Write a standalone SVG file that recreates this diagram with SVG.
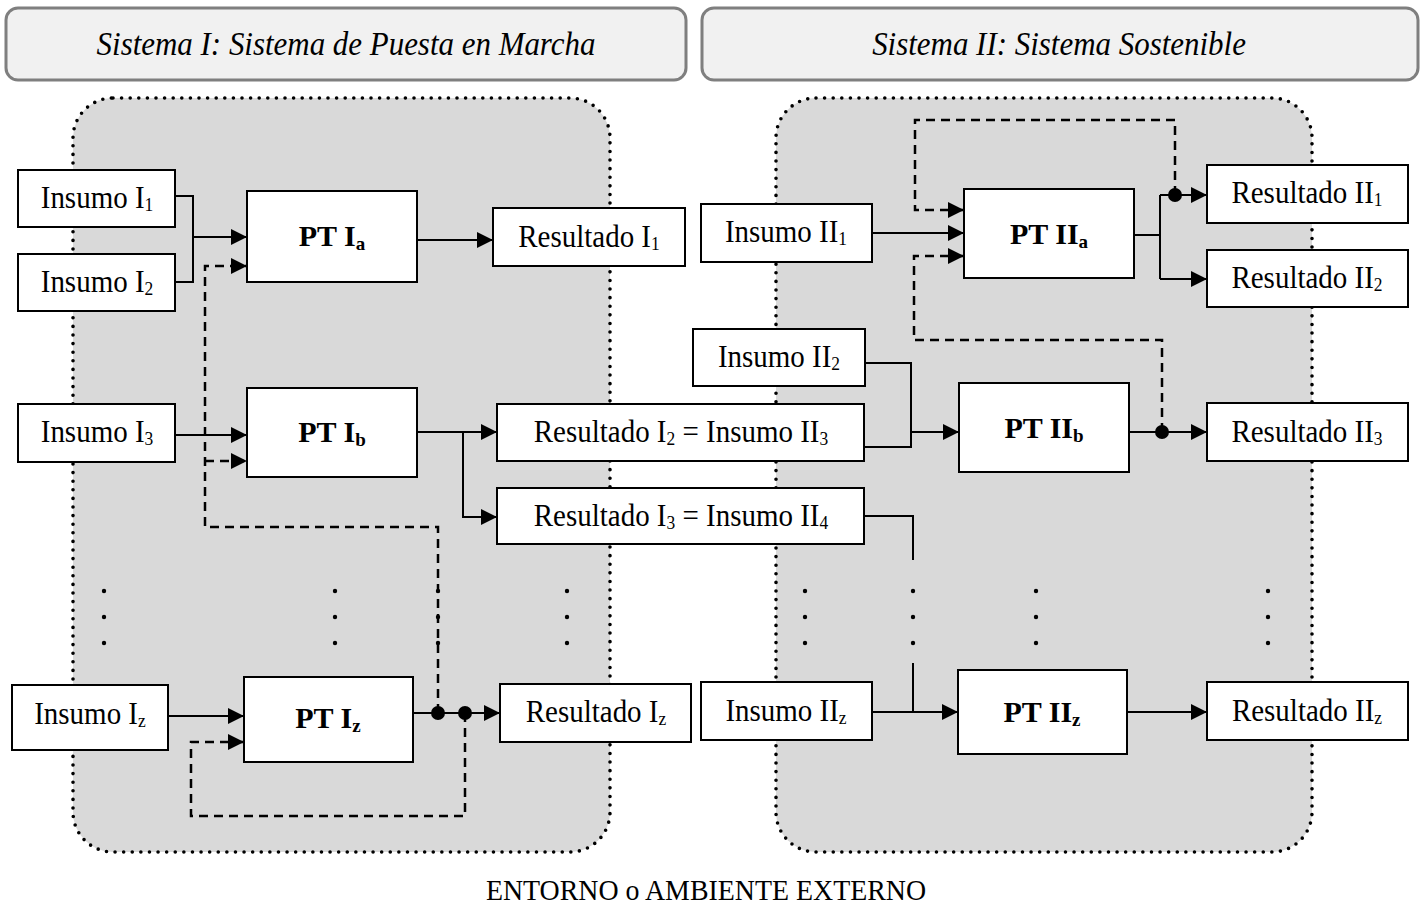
<svg xmlns="http://www.w3.org/2000/svg" width="1424" height="908" viewBox="0 0 1424 908">
  <style>
    .hdr { fill: #f1f1f1; stroke: #7f7f7f; stroke-width: 3; }
    .hdr-t { font-family: "Liberation Serif", "Times New Roman", serif; font-style: italic; font-size: 34px; fill: #000; text-anchor: middle; }
    .zone { fill: #d9d9d9; stroke: #000; stroke-width: 3.6; stroke-dasharray: 0 8.6; stroke-linecap: round; }
    .box { fill: #fff; stroke: #000; stroke-width: 2; }
    .lbl { font-family: "Liberation Serif", "Times New Roman", serif; font-size: 31.5px; fill: #000; text-anchor: middle; }
    .pt { font-family: "Liberation Serif", "Times New Roman", serif; font-size: 30px; font-weight: bold; fill: #000; text-anchor: middle; }
    .sub { font-size: 19px; }
    .ln { fill: none; stroke: #000; stroke-width: 2; }
    .dash { fill: none; stroke: #000; stroke-width: 2.5; stroke-dasharray: 9 6; }
    .jn { fill: #000; }
    .ell { fill: #000; }
    .foot { font-family: "Liberation Serif", "Times New Roman", serif; font-size: 30px; fill: #000; text-anchor: middle; }
  </style>
  <defs>
    <marker id="arr" markerUnits="userSpaceOnUse" markerWidth="17" markerHeight="16" refX="16" refY="8" orient="auto">
      <path d="M0,0 L16,8 L0,16 z" fill="#000"/>
    </marker>
  </defs>

  <!-- system headers -->
  <g id="header-1">
    <rect class="hdr" x="6" y="8" width="680" height="72" rx="12"/>
    <text class="hdr-t" transform="matrix(.91 0 0 1 346 0)" x="0" y="55">Sistema I: Sistema de Puesta en Marcha</text>
  </g>
  <g id="header-2">
    <rect class="hdr" x="702" y="8" width="716" height="72" rx="12"/>
    <text class="hdr-t" transform="matrix(.91 0 0 1 1059 0)" x="0" y="55">Sistema II: Sistema Sostenible</text>
  </g>

  <!-- system boundaries -->
  <g id="zone-1"><rect class="zone" x="73" y="98" width="537" height="754" rx="40"/></g>
  <g id="zone-2"><rect class="zone" x="776" y="98" width="536" height="754" rx="40"/></g>

  <!-- continuation marks -->
  <g id="ellipses">
    <circle class="ell" cx="104" cy="591" r="2.2"/><circle class="ell" cx="104" cy="617" r="2.2"/><circle class="ell" cx="104" cy="643" r="2.2"/>
    <circle class="ell" cx="335" cy="591" r="2.2"/><circle class="ell" cx="335" cy="617" r="2.2"/><circle class="ell" cx="335" cy="643" r="2.2"/>
    <circle class="ell" cx="438" cy="591" r="2.2"/><circle class="ell" cx="438" cy="617" r="2.2"/><circle class="ell" cx="438" cy="643" r="2.2"/>
    <circle class="ell" cx="567" cy="591" r="2.2"/><circle class="ell" cx="567" cy="617" r="2.2"/><circle class="ell" cx="567" cy="643" r="2.2"/>
    <circle class="ell" cx="805" cy="591" r="2.2"/><circle class="ell" cx="805" cy="617" r="2.2"/><circle class="ell" cx="805" cy="643" r="2.2"/>
    <circle class="ell" cx="913" cy="591" r="2.2"/><circle class="ell" cx="913" cy="617" r="2.2"/><circle class="ell" cx="913" cy="643" r="2.2"/>
    <circle class="ell" cx="1036" cy="591" r="2.2"/><circle class="ell" cx="1036" cy="617" r="2.2"/><circle class="ell" cx="1036" cy="643" r="2.2"/>
    <circle class="ell" cx="1268" cy="591" r="2.2"/><circle class="ell" cx="1268" cy="617" r="2.2"/><circle class="ell" cx="1268" cy="643" r="2.2"/>
  </g>

  <!-- connectors -->
  <g id="connectors">
    <!-- system I -->
    <path class="ln" d="M175,196 H193 V282 H175"/>
    <path class="ln" d="M193,237 H247" marker-end="url(#arr)"/>
    <path class="ln" d="M417,240 H493" marker-end="url(#arr)"/>
    <path class="ln" d="M175,435 H247" marker-end="url(#arr)"/>
    <path class="ln" d="M417,432 H497" marker-end="url(#arr)"/>
    <path class="ln" d="M463,432 V517 H497" marker-end="url(#arr)"/>
    <path class="ln" d="M168,716 H244" marker-end="url(#arr)"/>
    <path class="ln" d="M413,713 H500" marker-end="url(#arr)"/>
    <path class="dash" d="M438,713 V527 H205 V266 H247" marker-end="url(#arr)"/>
    <path class="dash" d="M205,461 H247" marker-end="url(#arr)"/>
    <path class="dash" d="M465,713 V816 H191 V742 H244" marker-end="url(#arr)"/>
    <!-- system II -->
    <path class="ln" d="M872,233 H964" marker-end="url(#arr)"/>
    <path class="ln" d="M1134,235 H1160"/>
    <path class="ln" d="M1160,195 V279"/>
    <path class="ln" d="M1160,195 H1207" marker-end="url(#arr)"/>
    <path class="ln" d="M1160,279 H1207" marker-end="url(#arr)"/>
    <path class="dash" d="M1175,195 V120 H915 V210 H964" marker-end="url(#arr)"/>
    <path class="dash" d="M1162,432 V340 H914 V256 H964" marker-end="url(#arr)"/>
    <path class="ln" d="M865,363 H911 V447 H864"/>
    <path class="ln" d="M911,432 H959" marker-end="url(#arr)"/>
    <path class="ln" d="M1129,432 H1207" marker-end="url(#arr)"/>
    <path class="ln" d="M864,516 H913 V560"/>
    <path class="ln" d="M913,663 V712"/>
    <path class="ln" d="M872,712 H958" marker-end="url(#arr)"/>
    <path class="ln" d="M1127,712 H1207" marker-end="url(#arr)"/>
    <!-- junction points -->
    <circle class="jn" cx="438" cy="713" r="7"/>
    <circle class="jn" cx="465" cy="713" r="7"/>
    <circle class="jn" cx="1175" cy="195" r="7"/>
    <circle class="jn" cx="1162" cy="432" r="7"/>
  </g>

  <!-- system I nodes -->
  <g id="insumo-i1"><rect class="box" x="18" y="170" width="157" height="57"/><text class="lbl" transform="matrix(.92 0 0 1 97 0)" x="0" y="208">Insumo I<tspan class="sub" dy="3">1</tspan></text></g>
  <g id="insumo-i2"><rect class="box" x="18" y="254" width="157" height="57"/><text class="lbl" transform="matrix(.92 0 0 1 97 0)" x="0" y="292">Insumo I<tspan class="sub" dy="3">2</tspan></text></g>
  <g id="pt-ia"><rect class="box" x="247" y="191" width="170" height="91"/><text class="pt" x="332" y="246">PT I<tspan class="sub" dy="4">a</tspan></text></g>
  <g id="resultado-i1"><rect class="box" x="493" y="208" width="192" height="58"/><text class="lbl" transform="matrix(.92 0 0 1 589 0)" x="0" y="247">Resultado I<tspan class="sub" dy="3">1</tspan></text></g>
  <g id="insumo-i3"><rect class="box" x="18" y="404" width="157" height="58"/><text class="lbl" transform="matrix(.92 0 0 1 97 0)" x="0" y="442">Insumo I<tspan class="sub" dy="3">3</tspan></text></g>
  <g id="pt-ib"><rect class="box" x="247" y="388" width="170" height="89"/><text class="pt" x="332" y="442">PT I<tspan class="sub" dy="4">b</tspan></text></g>
  <g id="resultado-i2"><rect class="box" x="497" y="404" width="367" height="57"/><text class="lbl" transform="matrix(.92 0 0 1 681 0)" x="0" y="442">Resultado I<tspan class="sub" dy="3">2</tspan><tspan dy="-3"> = Insumo II</tspan><tspan class="sub" dy="3">3</tspan></text></g>
  <g id="resultado-i3"><rect class="box" x="497" y="488" width="367" height="56"/><text class="lbl" transform="matrix(.92 0 0 1 681 0)" x="0" y="526">Resultado I<tspan class="sub" dy="3">3</tspan><tspan dy="-3"> = Insumo II</tspan><tspan class="sub" dy="3">4</tspan></text></g>
  <g id="insumo-iz"><rect class="box" x="12" y="685" width="156" height="65"/><text class="lbl" transform="matrix(.92 0 0 1 90 0)" x="0" y="724">Insumo I<tspan class="sub" dy="3">z</tspan></text></g>
  <g id="pt-iz"><rect class="box" x="244" y="677" width="169" height="85"/><text class="pt" x="328" y="728">PT I<tspan class="sub" dy="4">z</tspan></text></g>
  <g id="resultado-iz"><rect class="box" x="500" y="684" width="191" height="58"/><text class="lbl" transform="matrix(.92 0 0 1 596 0)" x="0" y="722">Resultado I<tspan class="sub" dy="3">z</tspan></text></g>

  <!-- system II nodes -->
  <g id="insumo-ii1"><rect class="box" x="701" y="204" width="171" height="58"/><text class="lbl" transform="matrix(.92 0 0 1 786 0)" x="0" y="242">Insumo II<tspan class="sub" dy="3">1</tspan></text></g>
  <g id="pt-iia"><rect class="box" x="964" y="189" width="170" height="89"/><text class="pt" x="1049" y="244">PT II<tspan class="sub" dy="4">a</tspan></text></g>
  <g id="resultado-ii1"><rect class="box" x="1207" y="165" width="201" height="58"/><text class="lbl" transform="matrix(.92 0 0 1 1307 0)" x="0" y="203">Resultado II<tspan class="sub" dy="3">1</tspan></text></g>
  <g id="resultado-ii2"><rect class="box" x="1207" y="250" width="201" height="57"/><text class="lbl" transform="matrix(.92 0 0 1 1307 0)" x="0" y="288">Resultado II<tspan class="sub" dy="3">2</tspan></text></g>
  <g id="insumo-ii2"><rect class="box" x="693" y="329" width="172" height="57"/><text class="lbl" transform="matrix(.92 0 0 1 779 0)" x="0" y="367">Insumo II<tspan class="sub" dy="3">2</tspan></text></g>
  <g id="pt-iib"><rect class="box" x="959" y="383" width="170" height="89"/><text class="pt" x="1044" y="438">PT II<tspan class="sub" dy="4">b</tspan></text></g>
  <g id="resultado-ii3"><rect class="box" x="1207" y="403" width="201" height="58"/><text class="lbl" transform="matrix(.92 0 0 1 1307 0)" x="0" y="442">Resultado II<tspan class="sub" dy="3">3</tspan></text></g>
  <g id="insumo-iiz"><rect class="box" x="701" y="682" width="171" height="58"/><text class="lbl" transform="matrix(.92 0 0 1 786 0)" x="0" y="721">Insumo II<tspan class="sub" dy="3">z</tspan></text></g>
  <g id="pt-iiz"><rect class="box" x="958" y="670" width="169" height="84"/><text class="pt" x="1042" y="722">PT II<tspan class="sub" dy="4">z</tspan></text></g>
  <g id="resultado-iiz"><rect class="box" x="1207" y="682" width="201" height="58"/><text class="lbl" transform="matrix(.92 0 0 1 1307 0)" x="0" y="721">Resultado II<tspan class="sub" dy="3">z</tspan></text></g>

  <!-- environment caption -->
  <text class="foot" transform="matrix(.93 0 0 1 706 0)" x="0" y="900">ENTORNO o AMBIENTE EXTERNO</text>
</svg>
